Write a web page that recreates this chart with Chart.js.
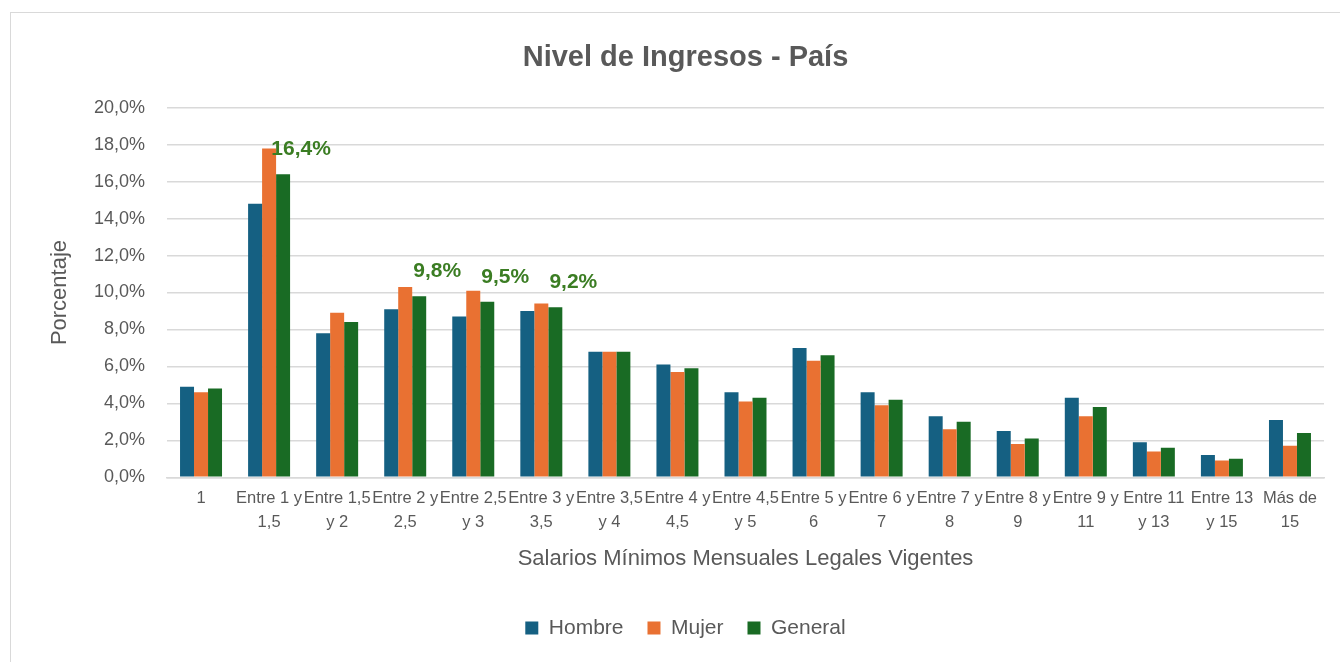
<!DOCTYPE html>
<html>
<head>
<meta charset="utf-8">
<script src="https://cdn.jsdelivr.net/npm/chart.js@4"></script>
<style>
  html, body { margin: 0; padding: 0; background: #fff; }
  #page { position: relative; width: 1340px; height: 662px; overflow: hidden; }
  #frame {
    position: absolute; left: 10px; top: 12px; width: 1340px; height: 660px;
    border-top: 1px solid #d9d9d9; border-left: 1px solid #d9d9d9;
  }
  #wrap { position: absolute; left: 11px; top: 13px; width: 1329px; height: 649px; }
</style>
</head>
<body>
<div id="page">
  <div id="frame"></div>
  <div id="wrap"><canvas id="ingresosChart"></canvas></div>
</div>
<script>
// ── Data ─────────────────────────────────

const categories = [
  ['1'], ['Entre 1 y', '1,5'], ['Entre 1,5', 'y 2'], ['Entre 2 y', '2,5'],
  ['Entre 2,5', 'y 3'], ['Entre 3 y', '3,5'], ['Entre 3,5', 'y 4'],
  ['Entre 4 y', '4,5'], ['Entre 4,5', 'y 5'], ['Entre 5 y', '6'],
  ['Entre 6 y', '7'], ['Entre 7 y', '8'], ['Entre 8 y', '9'],
  ['Entre 9 y', '11'], ['Entre 11', 'y 13'], ['Entre 13', 'y 15'], ['Más de', '15']
];

const hombre  = [4.9, 14.8, 7.8, 9.1, 8.7, 9.0, 6.8, 6.1, 4.6, 7.0, 4.6, 3.3, 2.5, 4.3, 1.9, 1.2, 3.1];
const mujer   = [4.6, 17.8, 8.9, 10.3, 10.1, 9.4, 6.8, 5.7, 4.1, 6.3, 3.9, 2.6, 1.8, 3.3, 1.4, 0.9, 1.7];
const general = [4.8, 16.4, 8.4, 9.8, 9.5, 9.2, 6.8, 5.9, 4.3, 6.6, 4.2, 3.0, 2.1, 3.8, 1.6, 1.0, 2.4];

// categories whose General bar carries a value label
const labeledIdx = [1, 3, 4, 5];

const yTicks = { min: 0, max: 20, step: 2 };

// ── Helpers ──────────────────────────────

const FONT = "'Liberation Sans', Arial, sans-serif";
const TEXT = '#595959';

function pct(v) {
  return v.toFixed(1).replace('.', ',') + '%';
}

const valueLabels = {
  id: 'valueLabels',
  afterDatasetsDraw(chart) {
    const meta = chart.getDatasetMeta(2);
    const c = chart.ctx;
    c.save();
    c.font = 'bold 21px ' + FONT;
    c.fillStyle = '#3B7D23';
    c.textAlign = 'center';
    c.textBaseline = 'middle';
    labeledIdx.forEach(i => {
      const bar = meta.data[i];
      c.fillText(pct(general[i]), bar.x + 18, bar.y - 25);
    });
    c.restore();
  }
};

// ── Chart Setup ──────────────────────────

const ctx = document.getElementById('ingresosChart').getContext('2d');
new Chart(ctx, {
  type: 'bar',
  data: {
    labels: categories,
    datasets: [
      { label: 'Hombre',  data: hombre,  backgroundColor: '#156082' },
      { label: 'Mujer',   data: mujer,   backgroundColor: '#E97132' },
      { label: 'General', data: general, backgroundColor: '#196B24' }
    ]
  },
  options: {
    responsive: true,
    maintainAspectRatio: false,
    animation: false,
    datasets: { bar: { categoryPercentage: 0.617, barPercentage: 1.0 } },
    layout: { padding: { left: 36, right: 16, top: 0, bottom: 13.5 } },
    plugins: {
      tooltip: { enabled: false },
      title: {
        display: true,
        text: 'Nivel de Ingresos - País',
        color: TEXT,
        font: { family: FONT, size: 29, weight: 'bold' },
        padding: { top: 28, bottom: 32 }
      },
      legend: {
        position: 'bottom',
        labels: {
          color: TEXT,
          font: { family: FONT, size: 21 },
          boxWidth: 13,
          boxHeight: 13,
          padding: 24
        }
      }
    },
    scales: {
      x: {
        grid: { display: false, drawTicks: false },
        border: { display: true, color: '#d9d9d9', width: 1.5 },
        ticks: {
          color: TEXT,
          font: { family: FONT, size: 16.5, lineHeight: 1.45 },
          padding: 9,
          maxRotation: 0,
          minRotation: 0,
          autoSkip: false
        },
        title: {
          display: true,
          text: 'Salarios Mínimos Mensuales Legales Vigentes',
          color: TEXT,
          font: { family: FONT, size: 22 },
          padding: { top: 3, bottom: 21 }
        }
      },
      y: {
        min: yTicks.min,
        max: yTicks.max,
        afterFit(scale) { scale.width = 120; },
        grid: { color: '#d9d9d9', lineWidth: 1.5, drawTicks: false },
        border: { display: false },
        ticks: {
          stepSize: yTicks.step,
          color: TEXT,
          font: { family: FONT, size: 18 },
          padding: 22,
          callback: v => pct(v)
        },
        title: {
          display: true,
          text: 'Porcentaje',
          color: TEXT,
          font: { family: FONT, size: 22 },
          padding: { top: 0, bottom: 0 }
        }
      }
    }
  },
  plugins: [valueLabels]
});
</script>
</body>
</html>
